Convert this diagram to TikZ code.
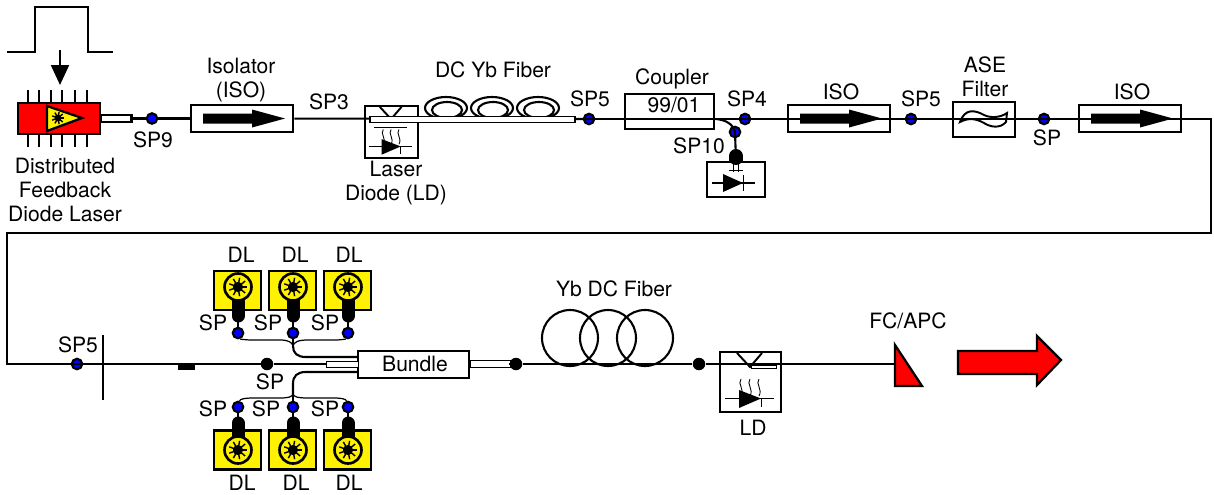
\documentclass[tikz,border=0pt]{standalone}
\usepackage{fontspec}
\setmainfont{TeX Gyre Heros}
\usetikzlibrary{arrows.meta}

\tikzset{
  lbl/.style={inner sep=0pt, align=center, font=\fontsize{12}{13.6}\selectfont},
  fiber/.style={line width=1.2pt},
  thinfiber/.style={line width=0.7pt},
  boxline/.style={draw, line width=1.5pt, inner sep=0pt},
  isobox/.style={boxline, fill=white, minimum width=2.04cm, minimum height=0.54cm},
  spdot/.style={circle, draw, line width=1.2pt, fill=blue, inner sep=0pt, minimum size=0.21cm},
  blackdot/.style={circle, fill=black, inner sep=0pt, minimum size=0.25cm},
  pigtail/.style={draw, line width=0.5pt, fill=white, inner sep=0pt},
  dlbox/.style={boxline, fill=yellow, minimum width=0.94cm, minimum height=0.78cm},
  dlring/.style={circle, draw, line width=1.5pt, fill=yellow, inner sep=0pt, minimum size=0.54cm},
  pumptail/.style={line width=0.26cm, line cap=round},
  coilring/.style={circle, draw, line width=1.2pt, inner sep=0pt, minimum size=1.12cm}
}

% black arrow inside an isolator
\newcommand{\isoarrow}[1]{
  \fill [shift={(#1)}] (-39,-5) -- (10,-5) -- (10,-9) -- (43,0) -- (10,9) -- (10,5) -- (-39,5) -- cycle;
}
% spiky emitter
\newcommand{\starburst}[2]{
  \fill [shift={(#1)}] (0,0) circle (#2*0.85);
  \foreach \a in {0,40,...,320}
    \draw [shift={(#1)}, line width=0.8pt] (0,0) -- (\a:#2*1.55);
}
% inside of a laser diode box, origin at its top left corner
\newcommand{\ldicon}[1]{
  \begin{scope}[#1]
    \draw [line width=1.1pt] (17,1) -- (30,15) -- (42,1);
    \foreach \s in {21,30,39}
      \draw [line width=0.5pt] (\s,27) .. controls (\s-4,32) and (\s+4,37) .. (\s,44);
    \draw [line width=0.8pt] (5,46.5) -- (54,46.5);
    \fill (19,38) -- (19,56) -- (41,46.5) -- cycle;
    \draw [line width=0.5pt] (41,46.5) -- (41,55);
  \end{scope}
}

\begin{document}
\begin{tikzpicture}[x=0.02cm, y=-0.02cm]
  \useasboundingbox (0,0) rectangle (1214,494);

  % pulse and seed laser
  \draw [line width=1.3pt] (7,52) -- (35,52) -- (35,7) -- (88,7) -- (88,52) -- (113,52);
  \coordinate (pulsetop) at (60,50);
  \coordinate (pulsetip) at (60,85);
  \draw [fiber, -{Triangle[length=0.4cm, width=0.36cm]}] (pulsetop) -- (pulsetip);
  \foreach \p in {28,39,51,62,75,87}
    \draw [line width=1.3pt] (\p,90) -- (\p,147);
  \node [boxline, fill=red, minimum width=1.64cm, minimum height=0.62cm] (dfb) at (59,118.5) {};
  \draw [fill=yellow, line width=1.3pt] (47,106) -- (47,131) -- (82,118) -- cycle;
  \starburst{58,118}{4}
  \node [lbl] (dfblabel) at (65,190) {Distributed\\Feedback\\Diode Laser};
  \node [pigtail, line width=0.9pt, minimum width=0.62cm, minimum height=0.14cm] (seedtail) at (116.5,118.5) {};
  \fill (130,115) rectangle (133,122);

  \node [spdot] (sp9) at (152,118.5) {};
  \node [lbl] (sp9label) at (153,140) {SP9};
  \node [isobox] (iso1) at (242,118.5) {};
  \isoarrow{242,118.5}
  \node [lbl] (iso1label) at (241,80) {Isolator\\(ISO)};
  \draw [fiber] (seedtail) -- (sp9);
  \draw [fiber] (sp9) -- (iso1);

  % first gain stage
  \node [lbl] (sp3label) at (329,102) {SP3};
  \node [boxline, minimum width=1.06cm, minimum height=1.04cm] (ld1) at (391.5,132) {};
  \ldicon{shift={(365,106)}, scale=0.87}
  \draw [line width=0.5pt] (374,127) -- (407,127);
  \foreach \c in {446,492,538} {
    \draw [line width=1.2pt] (\c,108) ellipse (21 and 11);
    \draw [line width=1.2pt] (\c+1,110) ellipse (15 and 8);
  }
  \node [spdot] (sp5a) at (589,119) {};
  \draw [fiber] (iso1) -- (sp5a.center);
  \node [pigtail, line width=1pt, minimum width=4.1cm, minimum height=0.12cm] (dcfiber) at (472.5,119.5) {};
  \node [lbl] (dcfiberlabel) at (493,70) {DC Yb Fiber};
  \node [lbl] (sp5alabel) at (590,99) {SP5};
  \node [lbl] (ld1label) at (396,183) {Laser\\Diode (LD)};

  % coupler and monitor
  \node [boxline, minimum width=1.78cm, minimum height=0.7cm] (coupler) at (669.5,111.5) {};
  \node [lbl] (couplerratio) at (674,105) {99/01};
  \node [lbl] (couplerlabel) at (672,79) {Coupler};
  \node [spdot] (sp4) at (745,119) {};
  \node [lbl] (sp4label) at (747,99) {SP4};
  \node [spdot] (sp10) at (735,132) {};
  \node [lbl] (sp10label) at (699,146) {SP10};
  \node [boxline, minimum width=1.16cm, minimum height=0.7cm] (monitor) at (736,179.5) {};
  \draw [pumptail, line width=0.28cm] (736,156) -- (736,158);
  \fill (729,156) rectangle (743,162);
  \draw [line width=0.5pt] (733,160) -- (733,172);
  \draw [line width=0.5pt] (738,160) -- (738,172);
  \draw [line width=0.5pt] (729,170) -- (743,170);
  \draw [line width=0.8pt] (712,183) -- (755,183);
  \fill (723,174) -- (723,192) -- (743,183) -- cycle;
  \draw [line width=0.5pt] (743,175) -- (743,191);
  \coordinate (tapstart) at (716,119);
  \draw [fiber] (tapstart) .. controls (726,120) and (733,124) .. (sp10.center);
  \draw [fiber] (sp10.center) -- (monitor.north);

  % second stage, isolators and filter
  \node [isobox] (iso2) at (839,118.5) {};
  \isoarrow{839,118.5}
  \node [lbl] (iso2label) at (841,92) {ISO};
  \node [spdot] (sp5b) at (911,119) {};
  \node [lbl] (sp5blabel) at (921,99) {SP5};
  \node [boxline, minimum width=1.24cm, minimum height=0.7cm] (asefilter) at (984,119.5) {};
  \node [lbl] (aselabel) at (985,77) {ASE\\Filter};
  \node [spdot] (sp6) at (1044,119) {};
  \node [lbl] (sp6label) at (1047,138) {SP};
  \node [isobox] (iso3) at (1130,118.5) {};
  \isoarrow{1130,118.5}
  \node [lbl] (iso3label) at (1132,92) {ISO};
  \coordinate (cornera) at (1211,119);
  \coordinate (cornerb) at (1211,233);
  \coordinate (cornerc) at (7,233);
  \coordinate (cornerd) at (7,364);
  \node [spdot] (sp5c) at (77,364) {};
  \draw [fiber] (sp5a.center) -- (cornera) -- (cornerb) -- (cornerc) -- (cornerd) -- (267,364);
  \draw [line width=1.1pt] (960,122) .. controls (965,108) and (975,110) .. (984,115)
    .. controls (990,118) and (1000,118) .. (1007,113) -- (1006,122)
    .. controls (1000,129) and (990,127) .. (984,123)
    .. controls (975,118) and (968,118) .. (960,122) -- cycle;

  % lower line
  \node [lbl] (sp5clabel) at (78,345) {SP5};
  \coordinate (cuttop) at (103,335);
  \coordinate (cutbottom) at (103,400);
  \draw [fiber] (cuttop) -- (cutbottom);
  \fill (178,363) rectangle (195,370);
  \node [blackdot] (junction) at (267,364) {};
  \node [lbl] (junctionlabel) at (270,382) {SP};
  \node [boxline, fill=white, minimum width=2.22cm, minimum height=0.54cm] (bundle) at (413.5,364.5) {};
  \node [lbl] (bundlelabel) at (415,364) {Bundle};
  \node [pigtail, minimum width=0.64cm, minimum height=0.12cm] (pigin) at (342,364) {};
  \node [pigtail, minimum width=0.8cm, minimum height=0.14cm] (pigout) at (490,364) {};
  \draw [fiber] (junction) -- (pigin);

  % pump diodes, upper row
  \foreach \n/\xc/\xs/\xd in {1/238/213/241,2/293/268/295,3/348/325/349} {
    \node [dlbox] (dlt\n) at (\xc-0.5,290.5) {};
    \draw [pumptail] (\xc,290) -- (\xc,316);
    \node [spdot] (spt\n) at (\xc,333) {};
    \draw [fiber] (dlt\n.south -| spt\n) -- (spt\n);
    \node [dlring] (ringt\n) at (\xc,287) {};
    \starburst{\xc,287}{6}
    \node [lbl] (sptlabel\n) at (\xs,323) {SP};
    \node [lbl] (dltlabel\n) at (\xd,255) {DL};
  }
  % pump diodes, lower row
  \foreach \n/\xc/\xs/\xd in {1/238/213/242,2/293/266/296,3/348/325/349} {
    \node [dlbox] (dlb\n) at (\xc-0.5,450) {};
    \draw [pumptail] (\xc,450) -- (\xc,423);
    \node [spdot] (spb\n) at (\xc,407) {};
    \draw [fiber] (dlb\n.north -| spb\n) -- (spb\n);
    \node [dlring] (ringb\n) at (\xc,450) {};
    \starburst{\xc,450}{6}
    \node [lbl] (spblabel\n) at (\xs,409) {SP};
    \node [lbl] (dlblabel\n) at (\xd,483) {DL};
  }
  % fibers into the bundle
  \coordinate (mergetop) at (293,346);
  \coordinate (mergebottom) at (293,394);
  \coordinate (trunktop) at (358,357);
  \coordinate (trunkbottom) at (358,372);
  \draw [thinfiber] (spt1) .. controls (240,339) and (245,340) .. (252,340)
    -- (280,340) .. controls (288,340) and (292,342) .. (mergetop);
  \draw [thinfiber] (spt2) -- (mergetop);
  \draw [thinfiber] (spt3) .. controls (346,339) and (341,340) .. (335,340)
    -- (308,340) .. controls (298,340) and (294,342) .. (mergetop);
  \draw [fiber] (mergetop) .. controls (293,353) and (297,357) .. (306,357) -- (trunktop);
  \draw [thinfiber] (spb1) .. controls (240,399) and (245,398) .. (252,398)
    -- (280,398) .. controls (288,398) and (292,397) .. (mergebottom);
  \draw [thinfiber] (spb2) -- (mergebottom);
  \draw [thinfiber] (spb3) .. controls (346,399) and (341,398) .. (335,398)
    -- (308,398) .. controls (298,398) and (294,397) .. (mergebottom);
  \draw [fiber] (mergebottom) -- (293,384) .. controls (293,376) and (297,372) .. (306,372) -- (trunkbottom);

  % output stage
  \node [blackdot] (dotout) at (516,364) {};
  \node [blackdot] (dotld) at (699,364) {};
  \node [coilring] (coila) at (570,338) {};
  \node [coilring] (coilb) at (608,338) {};
  \node [coilring] (coilc) at (645,338) {};
  \node [lbl] (coillabel) at (614,289) {Yb DC Fiber};
  \node [boxline, minimum width=1.22cm, minimum height=1.2cm] (ld2) at (750.5,382) {};
  \ldicon{shift={(720,352)}}
  \coordinate (wedgein) at (895,364);
  \draw [fiber] (pigout) -- (dotout);
  \draw [fiber] (dotout) -- (dotld);
  \draw [fiber] (dotld) -- (wedgein);
  \draw [line width=0.5pt, fill=white] (751,365) rectangle (776,368);
  \node [lbl] (ld2label) at (753,428) {LD};
  \draw [fill=red, line width=1.3pt] (895,345) -- (895,386) -- (922,386) -- cycle;
  \node [lbl] (wedgelabel) at (908,321) {FC/APC};
  \draw [fill=red, line width=1.3pt] (958,351) -- (1037,351) -- (1037,336) -- (1061,360) -- (1037,385) -- (1037,374) -- (958,374) -- cycle;
\end{tikzpicture}
\end{document}
